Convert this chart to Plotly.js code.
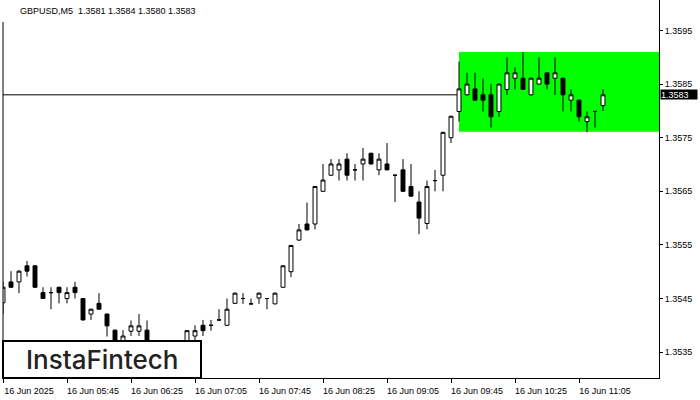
<!DOCTYPE html>
<html>
<head>
<meta charset="utf-8">
<script src="https://cdn.plot.ly/plotly-3.0.1.min.js"></script>
<style>
html,body{margin:0;padding:0;background:#fff;}
#chart{width:700px;height:400px;}
</style>
</head>
<body>
<div id="chart"></div>
<script>
var day = "2025-06-16 ";
var times = [
"05:05","05:10","05:15","05:20","05:25","05:30","05:35","05:40","05:45","05:50","05:55",
"06:00","06:05","06:10","06:15","06:20","06:25","06:30","06:35","06:40","06:45","06:50","06:55",
"07:00","07:05","07:10","07:15","07:20","07:25","07:30","07:35","07:40","07:45","07:50","07:55",
"08:00","08:05","08:10","08:15","08:20","08:25","08:30","08:35","08:40","08:45","08:50","08:55",
"09:00","09:05","09:10","09:15","09:20","09:25","09:30","09:35","09:40","09:45","09:50","09:55",
"10:00","10:05","10:10","10:15","10:20","10:25","10:30","10:35","10:40","10:45","10:50","10:55",
"11:00","11:05","11:10","11:15","11:20"
];
var open = [
1.35442,1.35481,1.35481,1.35511,1.35511,1.35461,1.35461,1.35471,1.35450,1.35471,1.35450,
1.35421,1.35441,1.35421,1.35391,1.35370,1.35389,1.35389,1.35391,1.35360,1.35340,1.35350,1.35345,
1.35355,1.35380,1.35400,1.35400,1.35410,1.35400,1.35441,1.35450,1.35440,1.35451,1.35450,1.35440,
1.35471,1.35500,1.35559,1.35589,1.35589,1.35650,1.35680,1.35690,1.35710,1.35690,1.35701,1.35721,
1.35690,1.35701,1.35680,1.35690,1.35659,1.35630,1.35590,1.35670,1.35680,1.35750,1.35799,1.35830,
1.35841,1.35830,1.35830,1.35799,1.35840,1.35861,1.35861,1.35830,1.35850,1.35871,1.35861,1.35861,
1.35820,1.35820,1.35780,1.35799,1.35810
];
var high = [
1.35481,1.35501,1.35503,1.35520,1.35512,1.35471,1.35471,1.35472,1.35471,1.35481,1.35451,
1.35431,1.35460,1.35422,1.35392,1.35391,1.35409,1.35421,1.35409,1.35365,1.35360,1.35360,1.35362,
1.35391,1.35400,1.35410,1.35410,1.35430,1.35450,1.35461,1.35460,1.35450,1.35461,1.35451,1.35461,
1.35512,1.35550,1.35589,1.35629,1.35660,1.35701,1.35710,1.35710,1.35721,1.35701,1.35731,1.35722,
1.35721,1.35740,1.35681,1.35710,1.35701,1.35650,1.35670,1.35690,1.35761,1.35791,1.35892,1.35871,
1.35871,1.35861,1.35850,1.35851,1.35900,1.35881,1.35910,1.35862,1.35900,1.35872,1.35900,1.35862,
1.35840,1.35821,1.35799,1.35800,1.35840
];
var low = [
1.35421,1.35470,1.35460,1.35491,1.35470,1.35450,1.35430,1.35441,1.35441,1.35450,1.35409,
1.35410,1.35430,1.35379,1.35360,1.35360,1.35380,1.35380,1.35360,1.35330,1.35330,1.35335,1.35340,
1.35350,1.35362,1.35380,1.35390,1.35409,1.35399,1.35440,1.35440,1.35439,1.35440,1.35430,1.35439,
1.35470,1.35490,1.35558,1.35577,1.35579,1.35649,1.35679,1.35670,1.35670,1.35670,1.35670,1.35700,
1.35680,1.35689,1.35630,1.35649,1.35640,1.35570,1.35579,1.35650,1.35650,1.35740,1.35780,1.35829,
1.35819,1.35799,1.35769,1.35789,1.35830,1.35840,1.35839,1.35829,1.35849,1.35840,1.35830,1.35799,
1.35799,1.35780,1.35760,1.35769,1.35800
];
var close = [
1.35471,1.35471,1.35501,1.35501,1.35471,1.35450,1.35461,1.35461,1.35461,1.35461,1.35410,
1.35430,1.35430,1.35399,1.35370,1.35380,1.35399,1.35399,1.35370,1.35340,1.35350,1.35345,1.35355,
1.35390,1.35390,1.35390,1.35400,1.35410,1.35430,1.35460,1.35450,1.35440,1.35460,1.35450,1.35460,
1.35511,1.35549,1.35578,1.35578,1.35659,1.35671,1.35701,1.35701,1.35680,1.35690,1.35710,1.35701,
1.35710,1.35690,1.35680,1.35650,1.35641,1.35600,1.35659,1.35670,1.35760,1.35790,1.35841,1.35850,
1.35820,1.35820,1.35789,1.35850,1.35871,1.35871,1.35840,1.35861,1.35861,1.35850,1.35871,1.35830,
1.35830,1.35789,1.35789,1.35799,1.35830
];
var xTickTimes = ["05:05","05:45","06:25","07:05","07:45","08:25","09:05","09:45","10:25","11:05"];
var xTickLabels = ["16 Jun 2025","16 Jun 05:45","16 Jun 06:25","16 Jun 07:05","16 Jun 07:45","16 Jun 08:25","16 Jun 09:05","16 Jun 09:45","16 Jun 10:25","16 Jun 11:05"];
var yTickVals = [1.3535,1.3545,1.3555,1.3565,1.3575,1.3585,1.3595];
var yTickLabels = ["1.3535","1.3545","1.3555","1.3565","1.3575","1.3585","1.3595"];
var symbol = "GBPUSD,M5";
var lastOHLC = ["1.3581","1.3584","1.3580","1.3583"];
var currentPrice = 1.3583;
var zoneStart = "09:50";
var zoneTop = 1.35910;
var zoneBottom = 1.35761;
var viewStart = "05:05";
var viewEnd = "11:55";
var yMin = 1.353017, yMax = 1.360069;

var x = times.map(function(t){return day + t;});

var trace = {
  type: 'candlestick',
  x: x, open: open, high: high, low: low, close: close,
  increasing: {line: {color: '#000000', width: 1}, fillcolor: '#ffffff'},
  decreasing: {line: {color: '#000000', width: 1}, fillcolor: '#000000'},
  whiskerwidth: 0,
  hoverinfo: 'skip',
  showlegend: false
};

var font = "Liberation Sans, Arial, sans-serif";
var plotH = 378;
var layout = {
  width: 700, height: 400,
  margin: {l: 3, r: 41, t: 0, b: 22},
  paper_bgcolor: '#ffffff', plot_bgcolor: '#ffffff',
  showlegend: false,
  hovermode: false,
  xaxis: {
    type: 'date',
    range: [day + viewStart, day + viewEnd],
    tickvals: xTickTimes.map(function(t){return day + t;}),
    ticktext: xTickLabels,
    ticks: 'outside', ticklen: 4, tickcolor: '#000', tickwidth: 1,
    ticklabelshift: 26,
    showline: true, linecolor: '#000', linewidth: 1,
    showgrid: false, zeroline: false,
    rangeslider: {visible: false},
    tickfont: {family: font, size: 9, color: '#000'},
    fixedrange: true
  },
  yaxis: {
    side: 'right',
    range: [yMin, yMax],
    tickvals: yTickVals, ticktext: yTickLabels,
    ticks: 'outside', ticklen: 3, tickcolor: '#000', tickwidth: 1,
    showline: true, linecolor: '#000', linewidth: 1,
    showgrid: false, zeroline: false,
    tickfont: {family: font, size: 9, color: '#000'},
    fixedrange: true
  },
  shapes: [
    {type: 'rect', xref: 'x', yref: 'y', x0: day + zoneStart, x1: day + viewEnd, y0: zoneBottom, y1: zoneTop,
     fillcolor: '#00ff00', line: {width: 0}, layer: 'below'},
    {type: 'line', xref: 'paper', yref: 'y', x0: 0, x1: 1, y0: currentPrice, y1: currentPrice,
     line: {color: '#000', width: 1}, layer: 'below'},
    {type: 'line', xref: 'paper', yref: 'paper', x0: 0, x1: 0, y0: 0, y1: 1 - 22/plotH,
     line: {color: '#000', width: 1}, layer: 'above'},
    {type: 'rect', xref: 'paper', yref: 'paper', x0: 0, x1: 198/656, y0: 0, y1: 37/plotH,
     fillcolor: '#ffffff', line: {color: '#000', width: 2}, layer: 'above'}
  ],
  annotations: [
    {xref: 'paper', yref: 'paper', x: 15/656, y: 1 - 11/plotH, xanchor: 'left', yanchor: 'middle',
     text: symbol + '\u00a0\u00a0' + lastOHLC.join(' '), showarrow: false,
     font: {family: font, size: 9, color: '#000'}},
    {xref: 'paper', yref: 'y', x: 1, y: currentPrice, xanchor: 'left', yanchor: 'middle', xshift: 1,
     text: currentPrice.toFixed(4), showarrow: false, bgcolor: '#000', borderpad: 0,
     width: 36, height: 9, align: 'left',
     font: {family: font, size: 9, color: '#fff'}},
    {xref: 'paper', yref: 'paper', x: 99/656, y: 19/plotH, xanchor: 'center', yanchor: 'middle',
     text: 'InstaFintech', showarrow: false,
     font: {family: 'Inter, Lato, sans-serif', size: 26, weight: 500, color: '#222'}}
  ]
};

Plotly.newPlot('chart', [trace], layout, {staticPlot: true, displayModeBar: false});
</script>
</body>
</html>
